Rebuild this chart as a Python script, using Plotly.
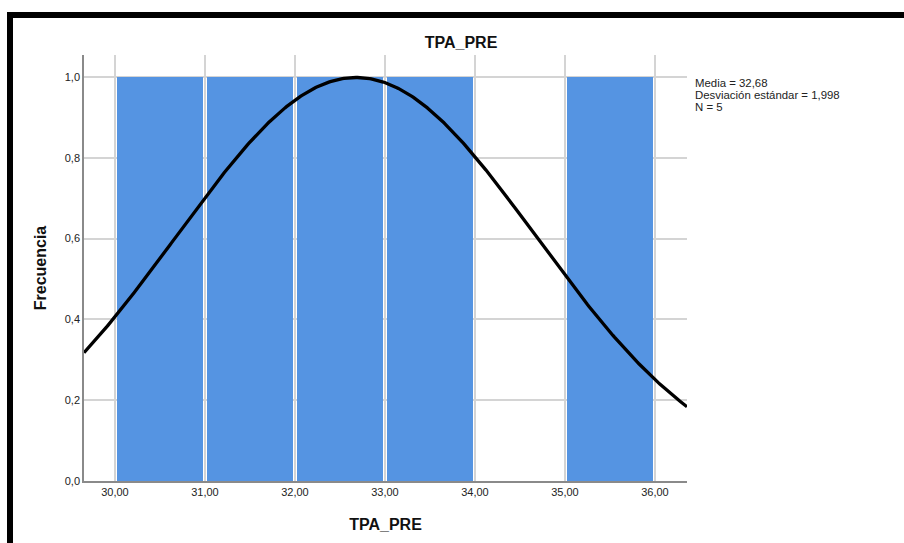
import numpy as np
import plotly.graph_objects as go

# Histogram of TPA_PRE (bin width 1)
bin_left = [30, 31, 32, 33, 34, 35]
counts = [1, 1, 1, 1, 0, 1]
x_ticks = [30, 31, 32, 33, 34, 35, 36]
y_ticks = [0.0, 0.2, 0.4, 0.6, 0.8, 1.0]

mean_val = 32.68
sd_val = 1.998
n_val = 5
stats_lines = ["Media = 32,68", "Desviación estándar = 1,998", "N = 5"]

W, H = 904, 543
ml, mr, mt, mb = 84, 217, 55, 62
x_range = [29.656, 36.356]
y_range = [0, 1.054]

bin_w = 1.0
centers = [b + bin_w / 2 for b in bin_left]

# Normal curve scaled to counts: N * bin width * pdf
xc = np.linspace(x_range[0], x_range[1], 400)
yc = n_val * bin_w * np.exp(-0.5 * ((xc - mean_val) / sd_val) ** 2) / (sd_val * np.sqrt(2 * np.pi))

fig = go.Figure()
fig.add_trace(go.Bar(
    x=centers, y=counts, width=0.955,
    marker=dict(color="#5594e2", line=dict(width=0)),
    hoverinfo="skip",
))
fig.add_trace(go.Scatter(
    x=xc, y=yc, mode="lines",
    line=dict(color="black", width=3.3),
    hoverinfo="skip",
))

pw = W - ml - mr
ph = H - mt - mb

def px_to_paper_x(px):
    return (px - ml) / pw

def px_to_paper_y(py):
    return (H - mb - py) / ph

# Outer frame
fig.add_shape(type="rect", xref="paper", yref="paper",
              x0=px_to_paper_x(10), x1=px_to_paper_x(1000),
              y0=px_to_paper_y(700), y1=px_to_paper_y(15),
              line=dict(color="black", width=6), fillcolor="rgba(0,0,0,0)",
              layer="above")

# Summary statistics, one line each
for i, line in enumerate(stats_lines):
    fig.add_annotation(xref="paper", yref="paper",
                       x=px_to_paper_x(693), y=px_to_paper_y(83 + 12 * i),
                       xanchor="left", yanchor="middle", align="left", showarrow=False,
                       text=line, font=dict(family="Arial, Liberation Sans", size=11.4, color="#222"))

fig.update_layout(
    width=W, height=H,
    margin=dict(l=ml, r=mr, t=mt, b=mb),
    paper_bgcolor="white", plot_bgcolor="white",
    showlegend=False,
    separators=",.",
    bargap=0,
    title=dict(text="<b>TPA_PRE</b>", x=461 / W, xanchor="center",
               y=1 - 42 / H, yanchor="middle",
               font=dict(family="Arial, Liberation Sans", size=16, color="#111")),
    font=dict(family="Arial, Liberation Sans", size=11, color="#222"),
)
fig.update_xaxes(
    range=x_range, tickvals=x_ticks, tickformat=".2f",
    showgrid=True, gridcolor="#d4d4d4", gridwidth=1.5,
    showline=True, linecolor="#8a8a8a", linewidth=1.5,
    ticks="", zeroline=False,
    title=dict(text="<b>TPA_PRE</b>", font=dict(size=16, color="#111"), standoff=22),
)
fig.update_yaxes(
    range=y_range, tickvals=y_ticks, tickformat=".1f",
    showgrid=True, gridcolor="#d4d4d4", gridwidth=1.5,
    showline=True, linecolor="#8a8a8a", linewidth=1.5,
    ticks="", zeroline=False,
    title=dict(text="<b>Frecuencia</b>", font=dict(size=16, color="#111"), standoff=14),
)

fig.write_html("out.html")
